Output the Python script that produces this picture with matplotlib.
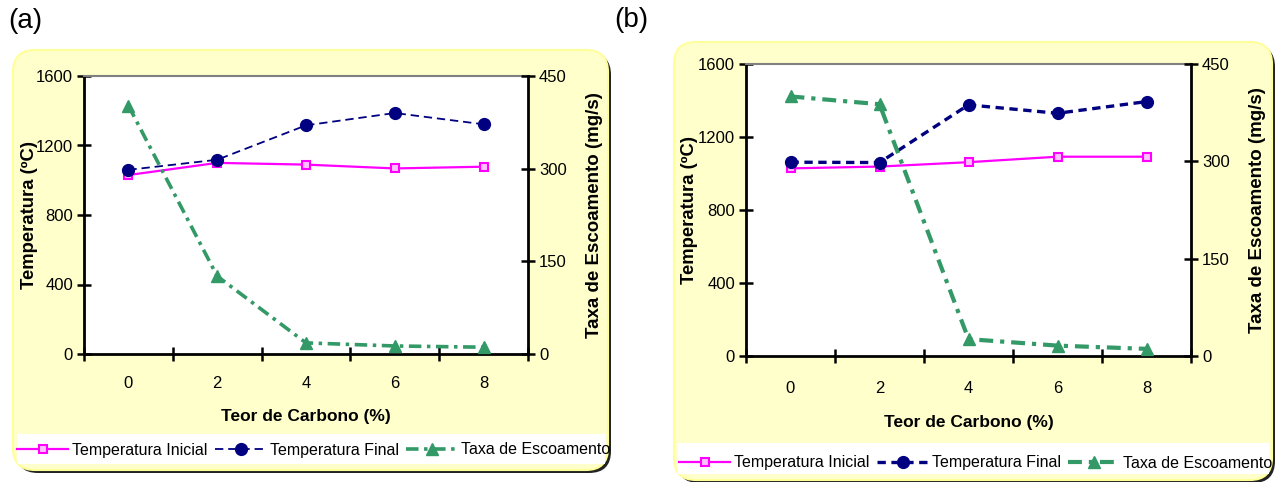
import matplotlib
matplotlib.use("Agg")
import matplotlib.pyplot as plt
from matplotlib.patches import FancyBboxPatch, Rectangle
from matplotlib import font_manager

# ---------------- data ----------------
carbono_labels = ["0", "2", "4", "6", "8"]

a_temp_inicial = [1030, 1100, 1090, 1068, 1078]
a_temp_final = [1060, 1118, 1316, 1387, 1322]
a_taxa = [402, 126, 18, 13, 11]

b_temp_inicial = [1028, 1038, 1062, 1092, 1092]
b_temp_final = [1062, 1060, 1376, 1330, 1394]
b_taxa = [400, 388, 26, 16, 11]

temp_ticks = [0, 400, 800, 1200, 1600]
taxa_ticks = [0, 150, 300, 450]

series_names = ["Temperatura Inicial", "Temperatura Final", "Taxa de Escoamento"]

# ---------------- fonts ----------------
names = {f.name for f in font_manager.fontManager.ttflist}
WIDE = "Liberation Sans" if "Liberation Sans" in names else "DejaVu Sans"
NARROW = "Liberation Sans Narrow" if "Liberation Sans Narrow" in names else WIDE
plt.rcParams["font.family"] = [WIDE, "DejaVu Sans"]
plt.rcParams["lines.scale_dashes"] = False

W, H = 1276, 482
fig = plt.figure(figsize=(W / 100, H / 100), dpi=100)


def fx(px):
    return px / W


def fy(py):
    return 1 - py / H


def panel_box(x0, y0, x1, y1):
    r = 22
    shadow = FancyBboxPatch((fx(x0 + 3), fy(y1 + 3)), fx(x1 - x0), (y1 - y0) / H,
                            transform=fig.transFigure, facecolor="#222222",
                            edgecolor="none", zorder=-3, boxstyle="round",
                            mutation_aspect=W / H)
    shadow.set_boxstyle("round", pad=0, rounding_size=r / W)
    fig.patches.append(shadow)
    box = FancyBboxPatch((fx(x0), fy(y1)), fx(x1 - x0), (y1 - y0) / H,
                         transform=fig.transFigure, facecolor="#FFFFCC",
                         edgecolor="#FFFF99", linewidth=1.5, zorder=-2,
                         boxstyle="round", mutation_aspect=W / H)
    box.set_boxstyle("round", pad=0, rounding_size=r / W)
    fig.patches.append(box)


def legend_band(x0, y0, x1, y1):
    band = Rectangle((fx(x0), fy(y1)), fx(x1 - x0), (y1 - y0) / H,
                     transform=fig.transFigure, facecolor="white",
                     edgecolor="none", zorder=-1)
    fig.patches.append(band)


TICK_FS = 12


def make_panel(rect, ti, tf, tx, fin_lw, fin_dash, tax_lw, tax_dash,
               ylab_x, ylab2_x, xlab_y, xtick_pad):
    ax = fig.add_axes(rect)
    ax.set_facecolor("white")
    x = list(range(len(carbono_labels)))
    l1, = ax.plot(x, ti, color="#FF00FF", lw=1.6, marker="s", markersize=6,
                  markerfacecolor="#FFC0FF", markeredgecolor="#FF00FF",
                  markeredgewidth=1.5, zorder=3)
    l2, = ax.plot(x, tf, color="#000080", lw=fin_lw, linestyle=(0, fin_dash),
                  marker="o", markersize=8.5, markerfacecolor="#000080",
                  markeredgecolor="#000080", zorder=4)
    ax.set_ylim(0, 1600)
    ax.set_yticks(temp_ticks)
    ax.set_xlim(-0.5, len(carbono_labels) - 0.5)
    ax.set_xticks([i - 0.5 for i in range(len(carbono_labels) + 1)])
    ax.set_xticklabels([])
    ax.set_xticks(x, minor=True)
    ax.set_xticklabels(carbono_labels, minor=True, fontfamily=NARROW,
                       fontsize=TICK_FS)
    ax.tick_params(axis="x", which="major", direction="inout", length=10, width=1.8)
    ax.tick_params(axis="x", which="minor", length=0, pad=xtick_pad)
    ax.tick_params(axis="y", direction="inout", length=10, width=1.8, pad=3,
                   labelsize=TICK_FS)
    for lab in ax.get_yticklabels():
        lab.set_fontfamily(NARROW)
    for s in ["left", "bottom"]:
        ax.spines[s].set_linewidth(2)
        ax.spines[s].set_color("black")
    ax.spines["top"].set_color("#808080")
    ax.spines["top"].set_linewidth(1.5)
    ax.spines["right"].set_visible(False)
    ax.set_ylabel("Temperatura (ºC)", fontsize=13.3, fontweight="bold")
    ax.yaxis.set_label_coords(ylab_x, 0.5)
    ax.set_xlabel("Teor de Carbono (%)", fontsize=12.5, fontweight="bold",
                  fontfamily=NARROW)
    ax.xaxis.set_label_coords(0.5, xlab_y)

    ax2 = ax.twinx()
    l3, = ax2.plot(x, tx, color="#339966", lw=tax_lw, linestyle=(0, tax_dash),
                   marker="^", markersize=8.5, markerfacecolor="#339966",
                   markeredgecolor="#339966", zorder=3)
    ax2.set_ylim(0, 450)
    ax2.set_yticks(taxa_ticks)
    ax2.tick_params(axis="y", direction="inout", length=10, width=1.8, pad=3,
                    labelsize=TICK_FS)
    for lab in ax2.get_yticklabels():
        lab.set_fontfamily(NARROW)
    for s in ["left", "bottom", "top"]:
        ax2.spines[s].set_visible(False)
    ax2.spines["right"].set_linewidth(2)
    ax2.set_ylabel("Taxa de Escoamento (mg/s)", fontsize=13.5, fontweight="bold",
                   rotation=90)
    ax2.yaxis.set_label_coords(ylab2_x, 0.5)
    return [l1, l2, l3]


LEG = dict(loc="center", ncol=3, frameon=False,
           prop={"family": NARROW, "size": 11.5},
           handlelength=3.2, handletextpad=0.25, columnspacing=0.45,
           borderpad=0, borderaxespad=0)

# ---------- panel (a) ----------
panel_box(13, 50, 608, 470)
legend_band(17, 434, 605, 464)
ha = make_panel([fx(84), fy(354), fx(528 - 84), (354 - 76) / H],
                a_temp_inicial, a_temp_final, a_taxa,
                1.3, (6, 3.5), 2.6, (9, 4, 2.5, 4),
                -0.104, 1.131, -0.198, 16)
fig.legend(ha, series_names, bbox_to_anchor=(fx(314), fy(450)), **LEG)
fig.text(fx(8), fy(21), "(a)", fontsize=20, va="center", ha="left")

# ---------- panel (b) ----------
panel_box(674, 42, 1272, 480)
legend_band(678, 443, 1269, 474)
hb = make_panel([fx(746), fy(356), fx(1191 - 746), (356 - 64) / H],
                b_temp_inicial, b_temp_final, b_taxa,
                2.4, (6, 4), 3.0, (10, 5, 3, 5),
                -0.108, 1.130, -0.202, 18)
fig.legend(hb, series_names, bbox_to_anchor=(fx(976), fy(463)), **LEG)
fig.text(fx(614), fy(20), "(b)", fontsize=20, va="center", ha="left")

fig.savefig("out.png", dpi=100, facecolor="white")
